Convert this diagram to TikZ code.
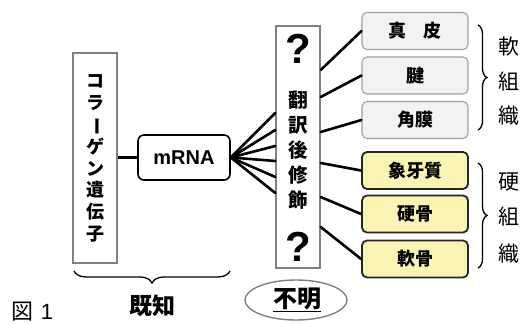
\documentclass[tikz,border=0pt]{standalone}
\usepackage{fontspec}
\setmainfont{Noto Sans CJK JP}
\newfontfamily\lat{Liberation Sans}
\usetikzlibrary{shapes.geometric,decorations.pathreplacing,calc}
\definecolor{softfill}{HTML}{F2F2F2}
\definecolor{softdraw}{HTML}{A0A0A0}
\definecolor{hardfill}{HTML}{FAF4B4}
\definecolor{graybox}{HTML}{808080}
\begin{document}
\begin{tikzpicture}[x=1pt,y=-1pt,
  tallbox/.style={draw=graybox,line width=1.4pt,fill=white,minimum width=44pt,inner sep=0pt},
  softbox/.style={draw=softdraw,line width=1.1pt,fill=softfill,rounded corners=5pt,minimum width=106pt,minimum height=37pt,font=\bfseries\fontsize{18}{18}\selectfont},
  hardbox/.style={draw=black!85,line width=1.8pt,fill=hardfill,rounded corners=5pt,minimum width=106pt,minimum height=37pt,font=\bfseries\fontsize{18}{18}\selectfont},
  fan/.style={line width=2.6pt,line cap=round},
  conn/.style={line width=2.4pt},
  vchar/.style={font=\bfseries\fontsize{19.5}{19.5}\selectfont,inner sep=0pt},
  bigq/.style={font=\lat\bfseries\fontsize{42}{42}\selectfont,inner sep=0pt},
  sidechar/.style={font=\fontsize{21}{21}\selectfont,inner sep=0pt},
  bracestyle/.style={draw,line width=1.3pt,decorate,decoration={brace,amplitude=#1}}
]
\useasboundingbox (0,0) rectangle (523,324);

% left gene box
\node[tallbox,minimum height=210pt] (gene) at (95,158) {};
\node[font=\bfseries\fontsize{18}{21.9}\selectfont,align=center,inner sep=0pt] (genetext) at (95,158.5)
  {コ\\ラ\\\rotatebox[origin=c]{-90}{ー}\\ゲ\\ン\\遺\\伝\\子};

% mRNA
\node[draw=black,line width=1.6pt,rounded corners=6pt,minimum width=92pt,minimum height=45pt,
      font=\lat\bfseries\fontsize{20}{20}\selectfont] (mrna) at (184,157.5) {mRNA};
\draw[conn] (gene.east |- mrna.west) -- (mrna.west);

% middle PTM box
\node[tallbox,minimum height=242pt] (ptm) at (298,147) {};
\node[bigq] (q1) at (298,49) {?};
\node[bigq] (q2) at (298,247) {?};
\node[vchar] (c1) at (298,100) {翻};
\node[vchar] (c2) at (298,125) {訳};
\node[vchar] (c3) at (298,150) {後};
\node[vchar] (c4) at (298,175) {修};
\node[vchar] (c5) at (298,200) {飾};

% fan lines mRNA -> PTM
\foreach \o in {-34,-17,-1,14,30,46}
  \draw[fan] (mrna.east) -- ($(ptm.west)+(0,\o)$);

% tissue boxes
\node[softbox] (shinpi) at (415,31) {真\hspace{0.9em}皮};
\node[softbox] (ken) at (415,75.5) {腱};
\node[softbox] (kakumaku) at (415,120) {角膜};
\node[hardbox] (zoge) at (415,170.5) {象牙質};
\node[hardbox] (kokotsu) at (415,214) {硬骨};
\node[hardbox] (nankotsu) at (415,259) {軟骨};

% PTM -> tissues
\draw[fan] ($(ptm.east)+(0,-77)$) -- (shinpi.west);
\draw[fan] ($(ptm.east)+(0,-50)$) -- (ken.west);
\draw[fan] ($(ptm.east)+(0,-15)$) -- (kakumaku.west);
\draw[fan] ($(ptm.east)+(0,16)$) -- (zoge.west);
\draw[fan] ($(ptm.east)+(0,50)$) -- (kokotsu.west);
\draw[fan] ($(ptm.east)+(0,80)$) -- (nankotsu.west);

% right braces
\coordinate (b1t) at (478,25);
\coordinate (b1b) at (478,130);
\coordinate (b2t) at (478,163);
\coordinate (b2b) at (478,268);
\draw[bracestyle=9pt] (b1t) -- (b1b);
\draw[bracestyle=9pt] (b2t) -- (b2b);
\node[sidechar] (s1) at (509,47) {軟};
\node[sidechar] (s2) at (509,82) {組};
\node[sidechar] (s3) at (509,116) {織};
\node[sidechar] (h1) at (509,182) {硬};
\node[sidechar] (h2) at (509,217) {組};
\node[sidechar] (h3) at (509,254) {織};

% bottom brace
\coordinate (bl) at (74,271);
\coordinate (br) at (230,271);
\draw[bracestyle=12pt] (br) -- (bl);
\node[font=\bfseries\fontsize{23}{23}\selectfont,inner sep=0pt] (kichi) at (152,306) {既知};

% unknown ellipse
\node[ellipse,draw=graybox,line width=1.4pt,minimum width=102pt,minimum height=40pt,inner sep=0pt] (fumei) at (296,300) {};
\node[font=\bfseries\fontsize{24}{24}\selectfont,inner sep=0pt] (fumeitext) at (297,300) {\underline{不明}};

% figure label
\node[font=\fontsize{22}{22}\selectfont,inner sep=0pt,anchor=west] (fig) at (11,312) {図\hspace{0.35em}{\lat 1}};
\end{tikzpicture}
\end{document}
